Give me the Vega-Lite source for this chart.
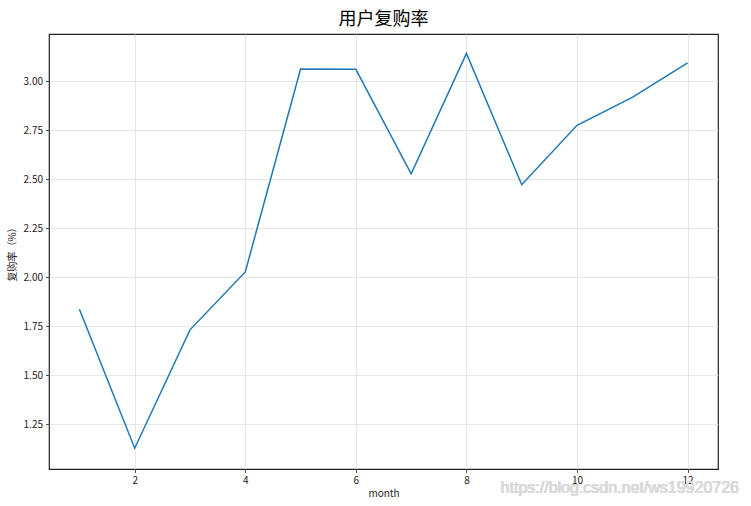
{
  "$schema": "https://vega.github.io/schema/vega-lite/v6.json",
  "width": 669,
  "height": 435,
  "autosize": {"type": "none"},
  "padding": {"left": 49, "top": 34, "right": 33, "bottom": 37},
  "background": "white",
  "config": {
    "font": "Noto Sans CJK SC",
    "view": {"stroke": "#222222", "strokeWidth": 1.2},
    "axis": {
      "domain": false,
      "grid": true,
      "gridColor": "#e0e0e0",
      "gridWidth": 0.8,
      "tickColor": "#222222",
      "tickSize": 3.5,
      "tickWidth": 0.8,
      "labelFont": "Noto Sans CJK SC",
      "labelFontSize": 10,
      "labelColor": "#222222",
      "labelPadding": 3,
      "titleFont": "Noto Sans CJK SC",
      "titleFontSize": 10,
      "titleFontWeight": "normal",
      "titleColor": "#222222"
    }
  },
  "title": {
    "text": "用户复购率",
    "fontSize": 18,
    "fontWeight": "normal",
    "font": "Noto Sans CJK SC",
    "color": "#000000",
    "anchor": "middle",
    "offset": 5
  },
  "data": {
    "values": [
      {"month": 1, "rate": 1.836},
      {"month": 2, "rate": 1.127},
      {"month": 3, "rate": 1.731},
      {"month": 4, "rate": 2.026},
      {"month": 5, "rate": 3.061},
      {"month": 6, "rate": 3.06},
      {"month": 7, "rate": 2.527},
      {"month": 8, "rate": 3.141},
      {"month": 9, "rate": 2.471},
      {"month": 10, "rate": 2.774},
      {"month": 11, "rate": 2.917},
      {"month": 12, "rate": 3.093}
    ]
  },
  "layer": [
    {
      "mark": {"type": "line", "color": "#1f77b4", "strokeWidth": 1.5},
      "encoding": {
        "x": {
          "field": "month",
          "type": "quantitative",
          "scale": {"domain": [0.45, 12.55], "nice": false, "zero": false},
          "axis": {"values": [2, 4, 6, 8, 10, 12], "format": "d", "title": "month", "titlePadding": 3}
        },
        "y": {
          "field": "rate",
          "type": "quantitative",
          "scale": {"domain": [1.021, 3.24], "nice": false, "zero": false},
          "axis": {
            "values": [1.25, 1.5, 1.75, 2.0, 2.25, 2.5, 2.75, 3.0],
            "format": ".2f",
            "title": "复购率（%）",
            "titlePadding": 6
          }
        }
      }
    },
    {
      "mark": {
        "type": "text",
        "text": "https://blog.csdn.net/ws19920726",
        "align": "right",
        "baseline": "middle",
        "font": "Liberation Sans",
        "fontSize": 16,
        "color": "#dadada",
        "clip": false
      },
      "encoding": {
        "x": {"datum": 12.93, "type": "quantitative"},
        "y": {"datum": 0.922, "type": "quantitative"}
      }
    }
  ]
}
